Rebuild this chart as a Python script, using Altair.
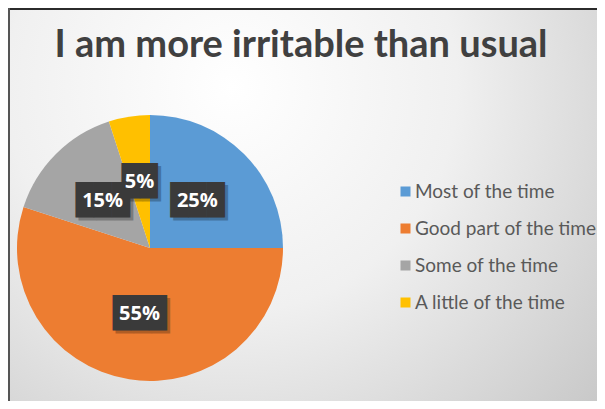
import altair as alt
import pandas as pd

categories = ["Most of the time", "Good part of the time", "Some of the time", "A little of the time"]
values = [25, 55, 15, 5]
labels = ["25%", "55%", "15%", "5%"]
colors = ["#5B9BD5", "#ED7D31", "#A5A5A5", "#FFC000"]
title_text = "I am more irritable than usual"

df = pd.DataFrame({"category": categories, "value": values, "label": labels, "idx": list(range(len(categories)))})

W, H = 589, 393
CX, CY = 142, 240
R = 133
RL = 67

bg = alt.Chart(pd.DataFrame({"a": [0]})).mark_rect(
    color=alt.RadialGradient(
        gradient="radial", x1=0.38, y1=0.3, r1=0.0, x2=0.38, y2=0.3, r2=0.85,
        stops=[alt.GradientStop(offset=0, color="#ffffff"),
               alt.GradientStop(offset=0.45, color="#f0f0f0"),
               alt.GradientStop(offset=1, color="#c6c6c6")]
    )
).encode(x=alt.value(0), x2=alt.value(W), y=alt.value(0), y2=alt.value(H))

border_top = alt.Chart(pd.DataFrame({"a": [0]})).mark_rule(color="#2b2b2b", strokeWidth=2).encode(
    x=alt.value(0), x2=alt.value(W), y=alt.value(1))
border_left = alt.Chart(pd.DataFrame({"a": [0]})).mark_rule(color="#555555", strokeWidth=2).encode(
    x=alt.value(1), y=alt.value(0), y2=alt.value(H))

title = alt.Chart(pd.DataFrame({"t": [title_text]})).mark_text(
    font="Lato", fontWeight="bold", fontSize=38, color="#404040", align="center", baseline="middle"
).encode(text="t:N", x=alt.value(293), y=alt.value(38))

base = alt.Chart(df).encode(
    theta=alt.Theta("value:Q", stack=True),
    order=alt.Order("idx:Q"),
    x=alt.value(CX), y=alt.value(CY),
)

pie = base.mark_arc(outerRadius=R, stroke=None).encode(
    color=alt.Color("category:N", sort=categories,
                    scale=alt.Scale(domain=categories, range=colors),
                    legend=alt.Legend(orient="none", legendX=388, legendY=174, title=None,
                                      symbolType="square", symbolSize=100, symbolStrokeWidth=0,
                                      labelFont="Lato", labelFontSize=19, labelColor="#595959",
                                      labelLimit=0, rowPadding=17, labelOffset=0))
)

boxes = base.transform_calculate(box="pad('', length(datum.label), '█', 'right')")
shadow = boxes.mark_text(radius=RL, font="DejaVu Sans Mono", fontSize=30, color="#000000",
                         opacity=0.25, dx=3, dy=3, baseline="middle").encode(text="box:N")
box = boxes.mark_text(radius=RL, font="DejaVu Sans Mono", fontSize=30, color="#3a3a3a",
                      baseline="middle").encode(text="box:N")
txt = base.mark_text(radius=RL, font="Open Sans", fontWeight="bold", fontSize=20, color="#ffffff",
                     baseline="middle").encode(text="label:N")

chart = alt.layer(bg, border_top, border_left, title, pie, shadow, box, txt).properties(
    width=W, height=H, padding=0, autosize="none"
).configure_view(stroke=None)

chart.save("out.html", embed_options={"renderer": "svg", "actions": False})
